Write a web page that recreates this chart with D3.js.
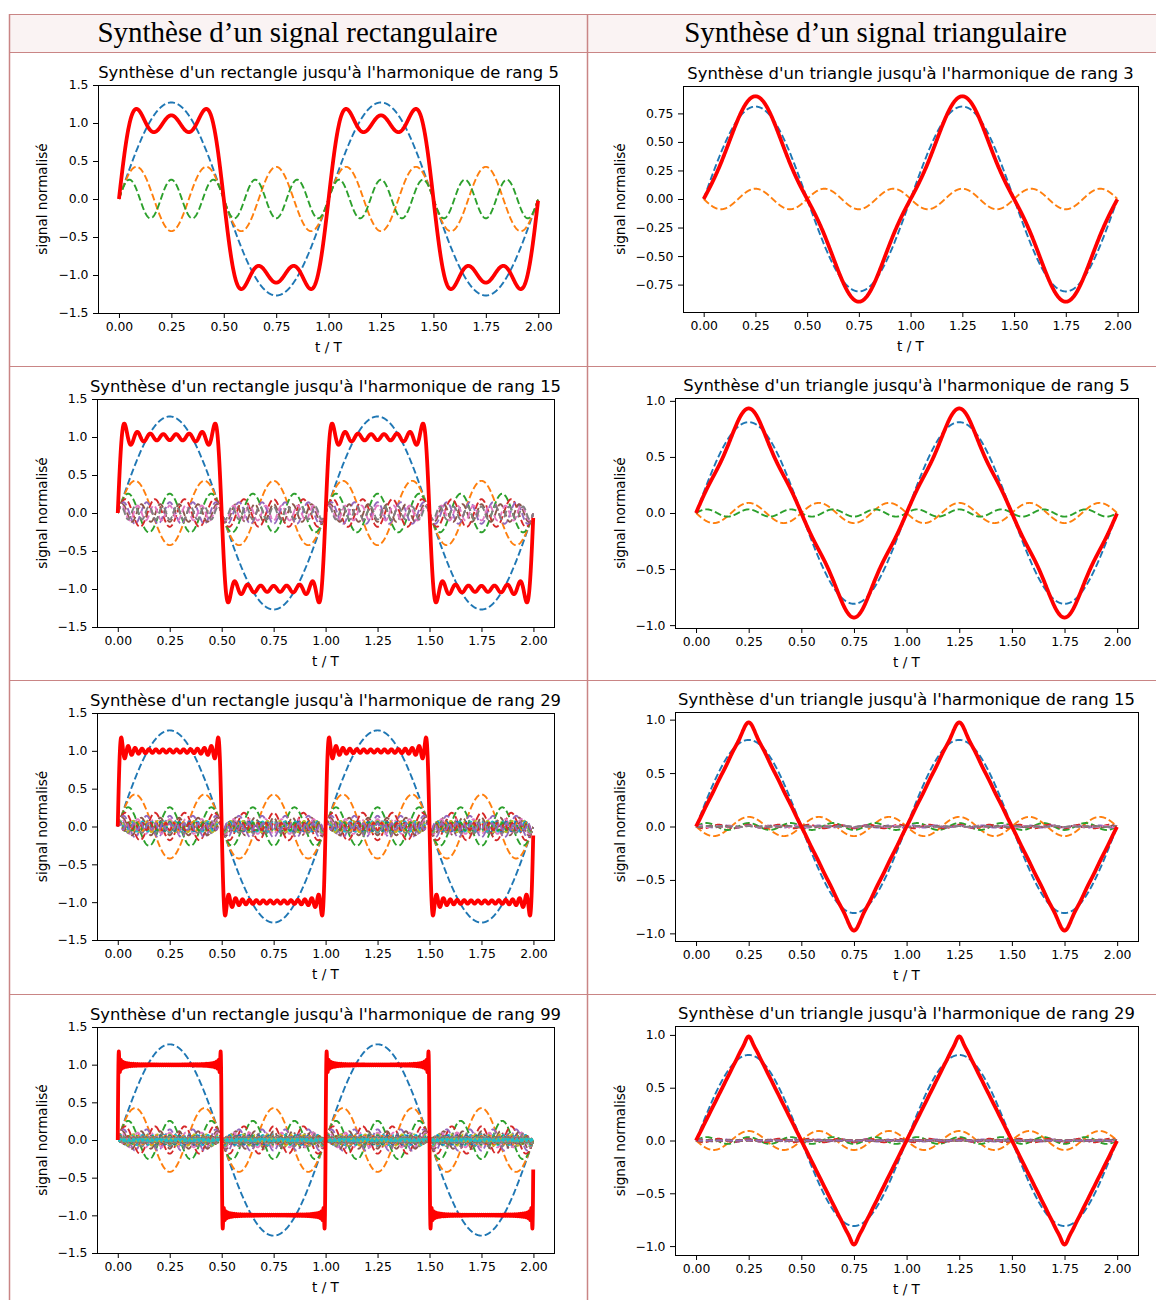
<!DOCTYPE html>
<html>
<head>
<meta charset="utf-8">
<script src="https://cdn.jsdelivr.net/npm/d3@7"></script>
<style>
  body { margin: 0; background: #fff; }
  text { font-family: "DejaVu Sans", sans-serif; fill: #000; }
</style>
</head>
<body>
<svg id="chart" width="1156" height="1300"></svg>
<script>
// column headers of the table
const headers = ["Synthèse d’un signal rectangulaire", "Synthèse d’un signal triangulaire"];

// highest harmonic rank used in each row
const rectRanks = [5, 15, 29, 99];
const triRanks = [3, 5, 15, 29];

// amplitude of the fundamental
const rectA1 = 1.27;
const triA1 = 0.81;

const rectYLim = [-1.5, 1.5];
const xTicks = [0, 0.25, 0.5, 0.75, 1, 1.25, 1.5, 1.75, 2];
const rectYTicks = [-1.5, -1, -0.5, 0, 0.5, 1, 1.5];
const triYTicks = [
  [-0.75, -0.5, -0.25, 0, 0.25, 0.5, 0.75],
  [-1, -0.5, 0, 0.5, 1],
  [-1, -0.5, 0, 0.5, 1],
  [-1, -0.5, 0, 0.5, 1]
];
const tab10 = ["#1f77b4", "#ff7f0e", "#2ca02c", "#d62728", "#9467bd",
               "#8c564b", "#e377c2", "#7f7f7f", "#bcbd22", "#17becf"];

// sampling of t/T (0 .. 2, step 0.001, end excluded)
const tStep = 0.001;
const t = d3.range(0, 2, tStep);

const svg = d3.select("#chart");
svg.append("rect").attr("width", 1156).attr("height", 1300).attr("fill", "#fff");

// ---- table frame
const border = "#c98585";
const table = svg.append("g");
table.append("rect").attr("x", 9).attr("y", 14).attr("width", 1160).attr("height", 38)
  .attr("fill", "#faf3f3");
[14, 52, 366, 680, 994].forEach(yy => {
  table.append("line").attr("x1", 9).attr("x2", 1156).attr("y1", yy + 0.5).attr("y2", yy + 0.5)
    .attr("stroke", border).attr("stroke-width", 1.2);
});
[9, 587].forEach(xx => {
  table.append("line").attr("x1", xx + 0.5).attr("x2", xx + 0.5).attr("y1", 14).attr("y2", 1300)
    .attr("stroke", border).attr("stroke-width", 1.5);
});
const headerX = [297.5, 875.5];
headers.forEach((h, i) => {
  table.append("text").attr("x", headerX[i]).attr("y", 42)
    .attr("text-anchor", "middle")
    .style("font-family", "'Liberation Serif', 'DejaVu Serif', serif")
    .style("font-size", "29px")
    .text(h);
});

// ---- panel boxes (axes area, page pixels)
const rectBoxes = [
  { L: 98, R: 559, T: 85, B: 313 },
  { L: 97, R: 554, T: 399, B: 627 },
  { L: 97, R: 554, T: 713, B: 940 },
  { L: 97, R: 554, T: 1027, B: 1253 }
];
const triBoxes = [
  { L: 683, R: 1138, T: 86, B: 312 },
  { L: 675, R: 1138, T: 398, B: 628 },
  { L: 675, R: 1138, T: 712, B: 941 },
  { L: 675, R: 1138, T: 1026, B: 1255 }
];
const ylabelX = [42, 620];

const minus = s => s.replace(/-/g, "\u2212");

// harmonics of the square wave: odd n, amplitude A1/n
function rectHarmonics(rank) {
  const out = [];
  for (let n = 1; n <= rank; n += 2) {
    const a = rectA1 / n;
    out.push(t.map(tt => ({ t: tt, v: a * Math.sin(2 * Math.PI * n * tt) })));
  }
  return out;
}
// harmonics of the triangle wave: odd n, amplitude A1/n^2 with alternating sign
function triHarmonics(rank) {
  const out = [];
  for (let n = 1, k = 0; n <= rank; n += 2, k++) {
    const a = (k % 2 ? -1 : 1) * triA1 / (n * n);
    out.push(t.map(tt => ({ t: tt, v: a * Math.sin(2 * Math.PI * n * tt) })));
  }
  return out;
}
function sumOf(harm) {
  return t.map((tt, i) => ({ t: tt, v: d3.sum(harm, h => h[i].v) }));
}

let clipN = 0;
function panel(box, harm, yDomain, yTicks, yFmt, title, labX) {
  const synth = sumOf(harm);
  const tExt = d3.extent(t);
  const tPad = 0.05 * (tExt[1] - tExt[0]);
  let dom = yDomain;
  if (!dom) {
    const lo = d3.min([synth, ...harm], s => d3.min(s, d => d.v));
    const hi = d3.max([synth, ...harm], s => d3.max(s, d => d.v));
    const p = 0.05 * (hi - lo);
    dom = [lo - p, hi + p];
  }
  const x = d3.scaleLinear().domain([tExt[0] - tPad, tExt[1] + tPad]).range([box.L, box.R]);
  const y = d3.scaleLinear().domain(dom).range([box.B, box.T]);

  const g = svg.append("g");
  const id = "clip" + (clipN++);
  g.append("clipPath").attr("id", id).append("rect")
    .attr("x", box.L).attr("y", box.T).attr("width", box.R - box.L).attr("height", box.B - box.T);

  const line = d3.line().x(d => x(d.t)).y(d => y(d.v));
  const plot = g.append("g").attr("clip-path", "url(#" + id + ")");
  harm.forEach((h, i) => {
    plot.append("path").datum(h).attr("d", line)
      .attr("fill", "none").attr("stroke", tab10[i % 10])
      .attr("stroke-width", 1.9).attr("stroke-dasharray", "7,3");
  });
  plot.append("path").datum(synth).attr("d", line)
    .attr("fill", "none").attr("stroke", "#ff0000").attr("stroke-width", 3.8)
    .attr("stroke-linejoin", "round");

  const xAxis = d3.axisBottom(x).tickValues(xTicks).tickSize(5).tickPadding(4.5)
    .tickFormat(d => minus(d3.format(".2f")(d)));
  const yAxis = d3.axisLeft(y).tickValues(yTicks).tickSize(5).tickPadding(4.5)
    .tickFormat(d => minus(d3.format(yFmt)(d)));
  const gx = g.append("g").attr("transform", "translate(0," + box.B + ")").call(xAxis);
  const gy = g.append("g").attr("transform", "translate(" + box.L + ",0)").call(yAxis);
  [gx, gy].forEach(a => {
    a.select(".domain").remove();
    a.selectAll("line").attr("stroke", "#000").attr("stroke-width", 1);
    a.selectAll("text").style("font-size", "12.4px").style("font-family", "'DejaVu Sans', sans-serif")
      .attr("fill", "#000");
  });

  g.append("rect").attr("x", box.L + 0.5).attr("y", box.T + 0.5)
    .attr("width", box.R - box.L).attr("height", box.B - box.T)
    .attr("fill", "none").attr("stroke", "#000").attr("stroke-width", 1);

  g.append("text").attr("x", (box.L + box.R) / 2).attr("y", box.T - 7.5)
    .attr("text-anchor", "middle").style("font-size", "16.4px").text(title);
  g.append("text").attr("x", (box.L + box.R) / 2).attr("y", box.B + 38.5)
    .attr("text-anchor", "middle").style("font-size", "13.6px").text("t / T");
  g.append("text").attr("transform", "translate(" + labX + "," + (box.T + box.B) / 2 + ") rotate(-90)")
    .attr("text-anchor", "middle").attr("dy", "0.35em").style("font-size", "13.6px")
    .text("signal normalisé");
}

rectRanks.forEach((r, i) => {
  panel(rectBoxes[i], rectHarmonics(r), rectYLim, rectYTicks, ".1f",
    "Synthèse d'un rectangle jusqu'à l'harmonique de rang " + r, ylabelX[0]);
});
triRanks.forEach((r, i) => {
  panel(triBoxes[i], triHarmonics(r), null, triYTicks[i], i === 0 ? ".2f" : ".1f",
    "Synthèse d'un triangle jusqu'à l'harmonique de rang " + r, ylabelX[1]);
});
</script>
</body>
</html>
